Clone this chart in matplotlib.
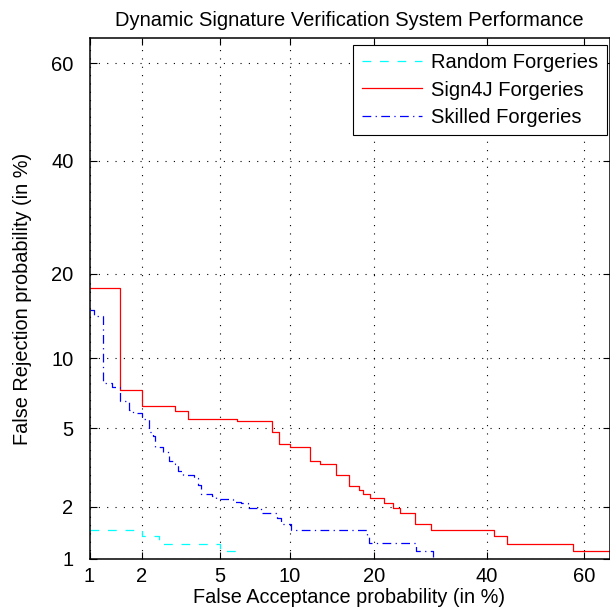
from statistics import NormalDist

import matplotlib
matplotlib.use("Agg")
import matplotlib.pyplot as plt
import numpy as np

plt.rcParams["font.family"] = ["Liberation Sans", "DejaVu Sans"]

# DET curve step corners, in percent
random_fa = [1.0, 2.0, 2.48, 4.99, 5.97]
random_fr = [1.48, 1.36, 1.23, 1.11, 0.9]

sign4j_fa = [1.0, 1.51, 2.01, 3.0, 3.5, 6.0, 8.5, 9.0, 10.0, 12.0, 13.0, 14.9,
             16.5, 17.9, 18.4, 19.4, 21.4, 22.9, 23.9, 26.4, 29.3, 41.5, 44.0,
             57.7, 70.0]
sign4j_fr = [18.0, 7.4, 6.3, 6.0, 5.5, 5.4, 4.8, 4.2, 4.06, 3.46, 3.33, 2.96,
             2.58, 2.46, 2.35, 2.22, 2.09, 1.97, 1.85, 1.60, 1.48, 1.36, 1.23,
             1.11, 1.11]

skilled_fa = [1.0, 1.06, 1.21, 1.35, 1.51, 1.70, 1.80, 2.0, 2.2, 2.3, 2.35, 2.6,
              2.8, 3.0, 3.1, 3.3, 3.75, 3.9, 4.04, 4.6, 4.8, 5.7, 6.2, 6.7, 7.6,
              8.9, 9.2, 10.1, 18.9, 19.2, 26.6, 29.7]
skilled_fr = [15.2, 14.4, 7.9, 7.6, 6.6, 6.07, 5.86, 5.5, 4.8, 4.6, 4.06, 3.82,
              3.45, 3.36, 3.1, 2.96, 2.85, 2.6, 2.35, 2.29, 2.21, 2.11, 2.09,
              1.97, 1.84, 1.74, 1.60, 1.48, 1.36, 1.24, 1.11, 0.9]

ticks = [1, 2, 5, 10, 20, 40, 60]

nd = NormalDist()
_ppf = np.vectorize(nd.inv_cdf, otypes=[float])
_cdf = np.vectorize(nd.cdf, otypes=[float])


def probit(p):
    p = np.clip(np.asarray(p, dtype=float) / 100.0, 1e-9, 1 - 1e-9)
    return _ppf(p)


def inv_probit(z):
    return 100.0 * _cdf(np.asarray(z, dtype=float))


fig = plt.figure(figsize=(6.1, 6.09), dpi=100)
ax = fig.add_axes([89.5 / 610, 50 / 609, 520 / 610, 521 / 609])
ax.set_xscale("function", functions=(probit, inv_probit))
ax.set_yscale("function", functions=(probit, inv_probit))

ax.plot(random_fa, random_fr, drawstyle="steps-post", color=(0, 1, 1), lw=0.9,
        linestyle=(0, (7, 7)), label="Random Forgeries")
ax.plot(sign4j_fa, sign4j_fr, drawstyle="steps-post", color=(1, 0, 0), lw=0.9,
        label="Sign4J Forgeries")
ax.plot(skilled_fa, skilled_fr, drawstyle="steps-post", color=(0, 0, 1), lw=0.9,
        linestyle=(0, (7, 3.5, 1, 3.5)), label="Skilled Forgeries")

ax.set_xlim(1, 65)
ax.set_ylim(1, 65)
ax.set_xticks(ticks)
ax.set_yticks(ticks)
ax.set_xticklabels([str(t) for t in ticks])
ax.set_yticklabels([str(t) for t in ticks])
ax.minorticks_off()
ax.tick_params(direction="in", length=5, width=0.8, top=True, right=True,
               labelsize=14.5, colors="black")
ax.tick_params(axis="x", pad=6)
ax.tick_params(axis="y", pad=11.5)
ax.grid(True, color="black", lw=0.8, linestyle=(0, (1, 6.5)))
for s in ax.spines.values():
    s.set_linewidth(1.1)

ax.set_xlabel("False Acceptance probability (in %)", fontsize=14.3, labelpad=1)
ax.set_ylabel("False Rejection probability (in %)", fontsize=14.3, labelpad=14)
ax.set_title("Dynamic Signature Verification System Performance", fontsize=14.5,
             pad=9)

leg = ax.legend(loc="upper right", bbox_to_anchor=(1 - 2.5 / 520, 1 - 7 / 521),
                fontsize=14.5, fancybox=False, framealpha=1,
                edgecolor="black", borderaxespad=0, handlelength=3.0,
                labelspacing=0.4, borderpad=0.42, handletextpad=0.45)
leg.get_frame().set_linewidth(0.8)

fig.savefig("out.png", dpi=100)
